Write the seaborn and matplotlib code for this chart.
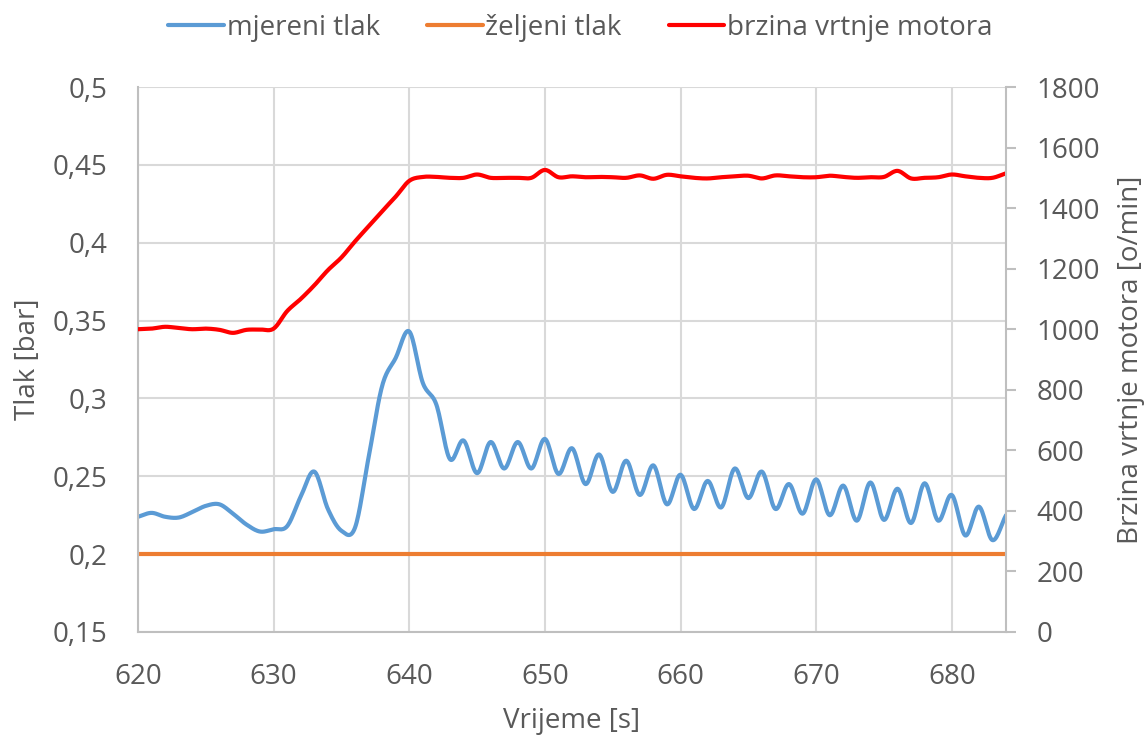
import numpy as np
import pandas as pd
import matplotlib
matplotlib.use("Agg")
import matplotlib.pyplot as plt
from matplotlib.ticker import FuncFormatter, MultipleLocator
import seaborn as sns

# Sample times [s], one reading per second
time = list(range(620, 685))

# Measured pressure [bar]
measured_pressure = [
    0.224, 0.2265, 0.224, 0.2235, 0.227, 0.231, 0.232, 0.226, 0.219, 0.2145,
    0.216, 0.218, 0.237, 0.253, 0.229, 0.215, 0.217, 0.262, 0.308, 0.326,
    0.343, 0.310, 0.296, 0.261, 0.273, 0.252, 0.272, 0.255, 0.272, 0.255,
    0.274, 0.2515, 0.268, 0.245, 0.264, 0.240, 0.260, 0.238, 0.257, 0.232,
    0.251, 0.229, 0.247, 0.230, 0.255, 0.236, 0.253, 0.229, 0.245, 0.226,
    0.248, 0.225, 0.244, 0.2215, 0.246, 0.222, 0.242, 0.220, 0.2455, 0.2215,
    0.238, 0.212, 0.2305, 0.209, 0.225,
]

# Desired pressure [bar]
desired_pressure = [0.2] * len(time)

# Motor speed [o/min]
motor_speed = [
    1000, 1002, 1008, 1004, 1000, 1002, 998, 988, 998, 999,
    1002, 1060, 1100, 1145, 1195, 1237, 1290, 1340, 1390, 1438,
    1490, 1503, 1503, 1500, 1500, 1511, 1500, 1500, 1500, 1500,
    1526, 1502, 1505, 1502, 1503, 1502, 1500, 1508, 1497, 1510,
    1505, 1500, 1498, 1502, 1505, 1507, 1498, 1508, 1505, 1502,
    1502, 1507, 1503, 1500, 1502, 1503, 1523, 1498, 1500, 1502,
    1511, 1505, 1500, 1500, 1515,
]

legend_labels = ["mjereni tlak", "željeni tlak", "brzina vrtnje motora"]
colors = ["#5B9BD5", "#ED7D31", "#FF0000"]


def smooth_line(x, y, steps=16):
    """Smoothed line through the samples (Catmull-Rom / Bezier style)."""
    x = np.asarray(x, float)
    y = np.asarray(y, float)
    xp = np.concatenate([[2 * x[0] - x[1]], x, [2 * x[-1] - x[-2]]])
    yp = np.concatenate([[2 * y[0] - y[1]], y, [2 * y[-1] - y[-2]]])
    t = np.linspace(0, 1, steps, endpoint=False)
    xs, ys = [], []
    for i in range(1, len(xp) - 2):
        for arr, out in ((xp, xs), (yp, ys)):
            p0, p1, p2, p3 = arr[i - 1], arr[i], arr[i + 1], arr[i + 2]
            out.append(0.5 * (2 * p1 + (-p0 + p2) * t
                              + (2 * p0 - 5 * p1 + 4 * p2 - p3) * t ** 2
                              + (-p0 + 3 * p1 - 3 * p2 + p3) * t ** 3))
    xs.append([x[-1]])
    ys.append([y[-1]])
    return np.concatenate(xs), np.concatenate(ys)


sns.set_theme(style="white")
plt.rcParams["font.family"] = ["Open Sans", "DejaVu Sans"]
text_color = "#595959"
grid_color = "#D9D9D9"
spine_color = "#BFBFBF"

fig = plt.figure(figsize=(11.45, 7.36), dpi=100)
ax = fig.add_axes([138 / 1145, 1 - 632 / 736, (1006 - 138) / 1145, (632 - 87) / 736])
ax2 = ax.twinx()

sx, sy = smooth_line(time, measured_pressure)
df_meas = pd.DataFrame({"t": sx, "v": sy})
sns.lineplot(data=df_meas, x="t", y="v", ax=ax, color=colors[0], lw=3,
             sort=False, estimator=None, label=legend_labels[0], legend=False)
df_des = pd.DataFrame({"t": time, "v": desired_pressure})
sns.lineplot(data=df_des, x="t", y="v", ax=ax, color=colors[1], lw=3,
             sort=False, estimator=None, label=legend_labels[1], legend=False)
rx, ry = smooth_line(time, motor_speed)
df_rpm = pd.DataFrame({"t": rx, "v": ry})
sns.lineplot(data=df_rpm, x="t", y="v", ax=ax2, color=colors[2], lw=3,
             sort=False, estimator=None, label=legend_labels[2], legend=False)

ax.set_xlim(620, 684)
ax.set_ylim(0.15, 0.5)
ax2.set_ylim(0, 1800)
ax.xaxis.set_major_locator(MultipleLocator(10))
ax.yaxis.set_major_locator(MultipleLocator(0.05))
ax2.yaxis.set_major_locator(MultipleLocator(200))
ax.yaxis.set_major_formatter(FuncFormatter(lambda v, p: f"{v:.2f}".rstrip("0").replace(".", ",")))

ax.grid(True, color=grid_color, lw=1.5)
ax2.grid(False)
ax.set_axisbelow(True)

for a in (ax, ax2):
    a.spines["top"].set_visible(False)
    for side in ("left", "bottom", "right"):
        a.spines[side].set_color(spine_color)
        a.spines[side].set_linewidth(1.5)
ax.spines["right"].set_visible(False)
ax2.spines["left"].set_visible(False)
ax2.spines["bottom"].set_visible(False)

ax.tick_params(axis="y", length=0, pad=22, labelsize=20, labelcolor=text_color)
ax.tick_params(axis="x", length=0, pad=22, labelsize=20, labelcolor=text_color)
ax2.tick_params(axis="y", length=7, width=1.5, color=spine_color, pad=15,
                labelsize=20, labelcolor=text_color)

ax.set_xlabel("Vrijeme [s]", fontsize=20, color=text_color, labelpad=12)
ax.set_ylabel("Tlak [bar]", fontsize=20, color=text_color, labelpad=8)
ax2.set_ylabel("Brzina vrtnje motora [o/min]", fontsize=20, color=text_color, labelpad=12)

handles = ax.get_lines()[:2] + ax2.get_lines()[:1]
fig.legend(handles, legend_labels, loc="upper center", bbox_to_anchor=(0.507, 1.015),
           ncol=3, frameon=False, fontsize=20, labelcolor=text_color,
           handlelength=2.0, handletextpad=0.1, columnspacing=1.7)

fig.savefig("out.png", dpi=100)
